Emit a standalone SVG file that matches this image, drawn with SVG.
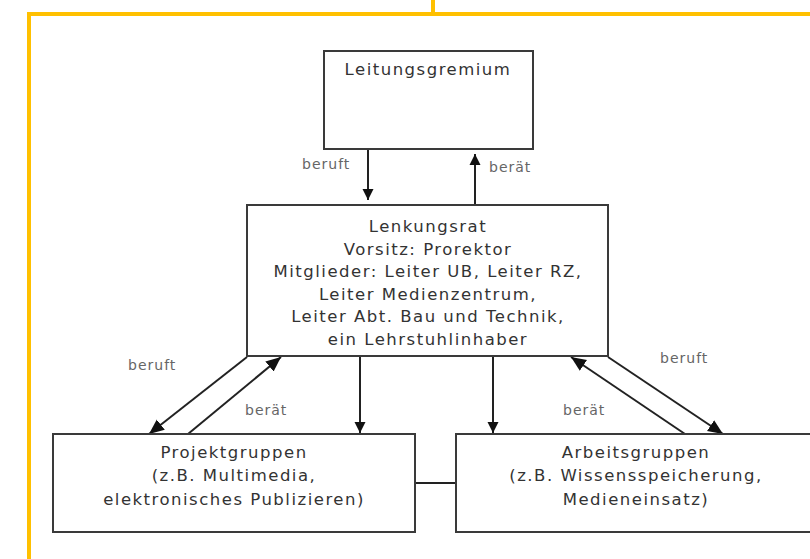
<svg xmlns="http://www.w3.org/2000/svg" width="810" height="559" viewBox="0 0 810 559">
  <style>
    .frame { fill: none; stroke: #FFC000; stroke-width: 4; }
    .box { fill: #ffffff; stroke: #3a3a3a; stroke-width: 2; }
    .t { font-family: "DejaVu Sans", Verdana, sans-serif; font-size: 16.5px; letter-spacing: 1.5px; fill: #333333; text-anchor: middle; }
    .lbl { font-family: "DejaVu Sans", Verdana, sans-serif; font-size: 14px; letter-spacing: 1px; fill: #666666; }
    .con { fill: none; stroke: #222222; stroke-width: 2; }
  </style>
  <defs>
    <marker id="ah" markerUnits="userSpaceOnUse" markerWidth="12" markerHeight="12" refX="11" refY="5.5" orient="auto" viewBox="0 0 12 11">
      <path d="M0,0 L11,5.5 L0,11 z" fill="#111111"/>
    </marker>
    <marker id="ahb" markerUnits="userSpaceOnUse" markerWidth="16" markerHeight="14" refX="15" refY="6.5" orient="auto" viewBox="0 0 16 13">
      <path d="M0,0 L15,6.5 L0,13 z" fill="#111111"/>
    </marker>
  </defs>
  <rect x="0" y="0" width="810" height="559" fill="#ffffff"/>
  <g id="frame">
    <line class="frame" x1="433" y1="0" x2="433" y2="14"/>
    <polyline class="frame" points="29,559 29,14 812,14"/>
  </g>
  <g id="connectors">
    <line class="con" x1="368" y1="149" x2="368" y2="200" marker-end="url(#ah)"/>
    <line class="con" x1="475" y1="205" x2="475" y2="154" marker-end="url(#ah)"/>
    <line class="con" x1="360" y1="356" x2="360" y2="433" marker-end="url(#ah)"/>
    <line class="con" x1="493" y1="356" x2="493" y2="433" marker-end="url(#ah)"/>
    <line class="con" x1="247" y1="357" x2="149" y2="434" marker-end="url(#ahb)"/>
    <line class="con" x1="188" y1="434" x2="281" y2="357" marker-end="url(#ahb)"/>
    <line class="con" x1="685" y1="434" x2="571" y2="357" marker-end="url(#ahb)"/>
    <line class="con" x1="608" y1="357" x2="723" y2="434" marker-end="url(#ahb)"/>
    <line class="con" x1="415" y1="483" x2="456" y2="483"/>
    <text class="lbl" x="302" y="169">beruft</text>
    <text class="lbl" x="489" y="172">berät</text>
    <text class="lbl" x="128" y="370">beruft</text>
    <text class="lbl" x="245" y="415">berät</text>
    <text class="lbl" x="660" y="363">beruft</text>
    <text class="lbl" x="563" y="415">berät</text>
  </g>
  <g id="leitungsgremium">
    <rect class="box" x="324" y="51" width="209" height="98"/>
    <text class="t" x="428" y="75">Leitungsgremium</text>
  </g>
  <g id="lenkungsrat">
    <rect class="box" x="247" y="205" width="361" height="151"/>
    <text class="t" x="428" y="232">Lenkungsrat</text>
    <text class="t" x="428" y="254.5">Vorsitz: Prorektor</text>
    <text class="t" x="428" y="277">Mitglieder: Leiter UB, Leiter RZ,</text>
    <text class="t" x="428" y="299.5">Leiter Medienzentrum,</text>
    <text class="t" x="428" y="322">Leiter Abt. Bau und Technik,</text>
    <text class="t" x="428" y="344.5">ein Lehrstuhlinhaber</text>
  </g>
  <g id="projektgruppen">
    <rect class="box" x="53" y="434" width="362" height="98"/>
    <text class="t" x="234" y="458">Projektgruppen</text>
    <text class="t" x="234" y="481">(z.B. Multimedia,</text>
    <text class="t" x="234" y="505">elektronisches Publizieren)</text>
  </g>
  <g id="arbeitsgruppen">
    <rect class="box" x="456" y="434" width="360" height="98"/>
    <text class="t" x="636" y="458">Arbeitsgruppen</text>
    <text class="t" x="636" y="481">(z.B. Wissensspeicherung,</text>
    <text class="t" x="636" y="505">Medieneinsatz)</text>
  </g>
</svg>
